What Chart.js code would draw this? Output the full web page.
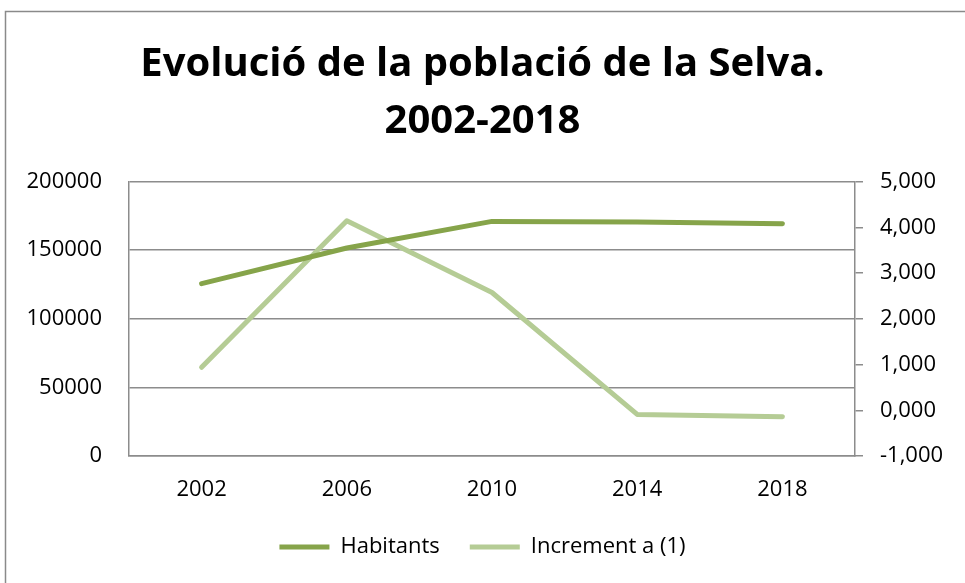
<!DOCTYPE html>
<html>
<head>
<meta charset="utf-8">
<script src="https://cdn.jsdelivr.net/npm/chart.js@4"></script>
<style>
  html, body { margin: 0; padding: 0; background: #fff; }
  #wrap { width: 965px; height: 583px; }
</style>
</head>
<body>
<div id="wrap"><canvas id="chart" width="965" height="583"></canvas></div>
<script>
var years = ["2002", "2006", "2010", "2014", "2018"];
var habitants = [125600, 151600, 171000, 170600, 169300];
var increment = [0.94, 4.145, 2.575, -0.09, -0.14];
var titleLines = ["Evolució de la població de la Selva.", "2002-2018"];

var gridGray = "#8c8c8c";
var font = "'Open Sans', 'Noto Sans', sans-serif";

// outer frame of the chart object
var framePlugin = {
  id: "frame",
  beforeDraw: function (chart) {
    var ctx = chart.ctx;
    ctx.save();
    ctx.strokeStyle = "#8a8a8a";
    ctx.lineWidth = 1.5;
    ctx.strokeRect(5.5, 11.5, 1200, 1200);
    ctx.restore();
  }
};

new Chart(document.getElementById("chart"), {
  type: "line",
  data: {
    labels: years,
    datasets: [
      {
        label: "Habitants",
        data: habitants,
        yAxisID: "y",
        borderColor: "#86a44a",
        backgroundColor: "#86a44a",
        borderWidth: 5,
        borderCapStyle: "round",
        borderJoinStyle: "round",
        pointRadius: 0,
        tension: 0
      },
      {
        label: "Increment a (1)",
        data: increment,
        yAxisID: "y1",
        borderColor: "#b5cc95",
        backgroundColor: "#b5cc95",
        borderWidth: 5,
        borderCapStyle: "round",
        borderJoinStyle: "round",
        pointRadius: 0,
        tension: 0
      }
    ]
  },
  options: {
    responsive: false,
    animation: false,
    layout: { padding: { left: 0, right: 0, top: 0, bottom: 15 } },
    plugins: {
      title: {
        display: true,
        text: titleLines,
        color: "#000",
        font: { family: font, size: 40, weight: "bold", lineHeight: 1.42 },
        padding: { top: 36, bottom: 32 }
      },
      legend: {
        position: "bottom",
        labels: {
          color: "#000",
          font: { family: font, size: 22 },
          usePointStyle: true,
          pointStyle: "line",
          pointStyleWidth: 50,
          padding: 30
        }
      },
      tooltip: { enabled: false }
    },
    scales: {
      x: {
        offset: true,
        grid: { display: false, drawTicks: false },
        border: { display: true, color: gridGray, width: 1.5 },
        ticks: { color: "#000", font: { family: font, size: 22 }, padding: 21 },
        afterFit: function (scale) { scale.height = 50; }
      },
      y: {
        position: "left",
        min: 0,
        max: 200000,
        ticks: {
          stepSize: 50000,
          color: "#000",
          font: { family: font, size: 22 },
          padding: 27,
          callback: function (v) { return String(v); }
        },
        grid: { color: gridGray, lineWidth: 1.5, drawTicks: false },
        border: { display: true, color: gridGray, width: 1.5 },
        afterFit: function (scale) { scale.width = 129; }
      },
      y1: {
        position: "right",
        min: -1,
        max: 5,
        ticks: {
          stepSize: 1,
          color: "#000",
          font: { family: font, size: 22 },
          padding: 17,
          callback: function (v) { return Number(v).toFixed(3).replace(".", ","); }
        },
        grid: {
          drawOnChartArea: false,
          drawTicks: true,
          tickLength: 8,
          tickColor: gridGray,
          lineWidth: 1.5
        },
        border: { display: true, color: gridGray, width: 1.5 },
        afterFit: function (scale) { scale.width = 110; }
      }
    }
  },
  plugins: [framePlugin]
});
</script>
</body>
</html>
